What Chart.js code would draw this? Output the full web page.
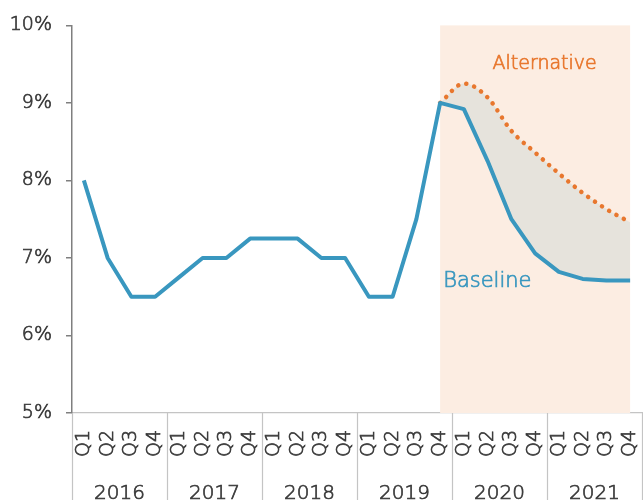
<!DOCTYPE html>
<html>
<head>
<meta charset="utf-8">
<script src="https://cdn.jsdelivr.net/npm/chart.js@4.4.1/dist/chart.umd.min.js"></script>
<style>
  html, body { margin: 0; padding: 0; background: #ffffff; }
  #wrap { width: 643px; height: 500px; }
</style>
</head>
<body>
<div id="wrap"><canvas id="c" width="643" height="500"></canvas></div>
<script>
// Quarterly rate, 2016–2021 (per cent)
const years = ['2016', '2017', '2018', '2019', '2020', '2021'];
const quarters = ['Q1', 'Q2', 'Q3', 'Q4'];
const categories = years.flatMap(y => quarters.map(q => q));

const baseline = [
  8.0, 7.0, 6.5, 6.5,
  6.75, 7.0, 7.0, 7.25,
  7.25, 7.25, 7.0, 7.0,
  6.5, 6.5, 7.5, 9.0,
  8.92, 8.25, 7.5, 7.06,
  6.82, 6.73, 6.71, 6.71
];
const alternative = [
  null, null, null, null,
  null, null, null, null,
  null, null, null, null,
  null, null, null, 9.0,
  9.25, 9.07, 8.64, 8.36,
  8.09, 7.84, 7.63, 7.46
];
const yTicks = [5, 6, 7, 8, 9, 10];

// Projection window: from 2019 Q4 to 2021 Q4
const projectionStart = 15;
const projectionEnd = 23;

// Light face thickened by a fine outline for a medium-thin stroke
const FONT = '"DejaVu Sans", sans-serif';
const WEIGHT = '300';
const STROKE = 0.7;
const TEXT = '#3a3a3a';
const BLUE = '#3997bf';
const ORANGE = '#e8772e';

function label(ctx, text, x, y, color) {
  ctx.fillStyle = color;
  ctx.strokeStyle = color;
  ctx.lineWidth = STROKE;
  ctx.fillText(text, x, y);
  ctx.strokeText(text, x, y);
}

const projectionShade = {
  id: 'projectionShade',
  beforeDatasetsDraw(chart) {
    const { ctx, chartArea, scales } = chart;
    const x0 = scales.x.getPixelForValue(projectionStart);
    const x1 = scales.x.getPixelForValue(projectionEnd);
    ctx.save();
    ctx.fillStyle = '#fcede2';
    ctx.fillRect(x0, chartArea.top, x1 - x0, chartArea.bottom - chartArea.top);
    ctx.restore();
  }
};

const yearGroups = {
  id: 'yearGroups',
  afterDraw(chart) {
    const { ctx, chartArea, scales } = chart;
    const x = scales.x;
    const step = (chartArea.right - chartArea.left) / categories.length;
    ctx.save();
    ctx.strokeStyle = '#c4c4c4';
    ctx.lineWidth = 1.2;
    for (let i = 0; i <= years.length; i++) {
      const px = Math.round(x.getPixelForValue(i * 4) - step / 2) + 0.5;
      ctx.beginPath();
      ctx.moveTo(px, chartArea.bottom);
      ctx.lineTo(px, chart.height);
      ctx.stroke();
    }
    ctx.font = WEIGHT + ' 20px ' + FONT;
    ctx.textAlign = 'center';
    ctx.textBaseline = 'alphabetic';
    years.forEach((y, i) => {
      const cx = (x.getPixelForValue(i * 4) + x.getPixelForValue(i * 4 + 3)) / 2;
      label(ctx, y, cx, 499, TEXT);
    });

    // series labels
    const ys = scales.y;
    ctx.font = WEIGHT + ' 19px ' + FONT;
    ctx.textAlign = 'center';
    ctx.textBaseline = 'middle';
    label(ctx, 'Alternative', x.getPixelForValue(19.4), ys.getPixelForValue(9.5), ORANGE);
    ctx.textAlign = 'left';
    ctx.font = WEIGHT + ' 21px ' + FONT;
    label(ctx, 'Baseline', x.getPixelForValue(projectionStart) + 3, ys.getPixelForValue(6.69), BLUE);
    ctx.restore();
  }
};

new Chart(document.getElementById('c'), {
  type: 'line',
  data: {
    labels: categories,
    datasets: [
      {
        label: 'Baseline',
        data: baseline,
        borderColor: BLUE,
        borderWidth: 4,
        pointRadius: 0,
        tension: 0,
        fill: false,
        borderJoinStyle: 'round',
        order: 1
      },
      {
        label: 'Alternative',
        data: alternative,
        borderColor: ORANGE,
        borderWidth: 4.5,
        borderDash: [0.1, 8.3],
        borderCapStyle: 'round',
        pointRadius: 0,
        cubicInterpolationMode: 'monotone',
        fill: { target: 0, above: '#e6e3dc', below: '#e6e3dc' },
        backgroundColor: '#e6e3dc',
        order: 2
      }
    ]
  },
  options: {
    responsive: false,
    animation: false,
    layout: { padding: { top: 22, right: 1, left: 0, bottom: 0 } },
    plugins: {
      legend: { display: false },
      tooltip: { enabled: false },
      filler: { drawTime: 'beforeDatasetDraw' }
    },
    scales: {
      x: {
        type: 'category',
        offset: true,
        grid: { display: false, drawTicks: false },
        border: { display: true, color: '#c4c4c4', width: 1.2 },
        ticks: {
          autoSkip: false,
          minRotation: 90,
          maxRotation: 90,
          padding: 17,
          color: TEXT,
          textStrokeColor: TEXT,
          textStrokeWidth: STROKE,
          font: { family: FONT, size: 19, weight: WEIGHT }
        },
        afterFit(scale) {
          scale.height = 87;
          scale.paddingLeft = 0;
          scale.paddingRight = 0;
        }
      },
      y: {
        min: 5,
        max: 10,
        afterBuildTicks(scale) { scale.ticks = yTicks.map(v => ({ value: v })); },
        grid: { drawOnChartArea: false, drawTicks: true, tickLength: 6, color: '#7f7f7f', lineWidth: 1.5 },
        border: { display: true, color: '#7f7f7f', width: 1.5 },
        ticks: {
          padding: 14,
          color: TEXT,
          textStrokeColor: TEXT,
          textStrokeWidth: STROKE,
          font: { family: FONT, size: 19, weight: WEIGHT },
          callback: v => v + '%'
        },
        afterFit(scale) { scale.width = 72; }
      }
    }
  },
  plugins: [projectionShade, yearGroups]
});
</script>
</body>
</html>
